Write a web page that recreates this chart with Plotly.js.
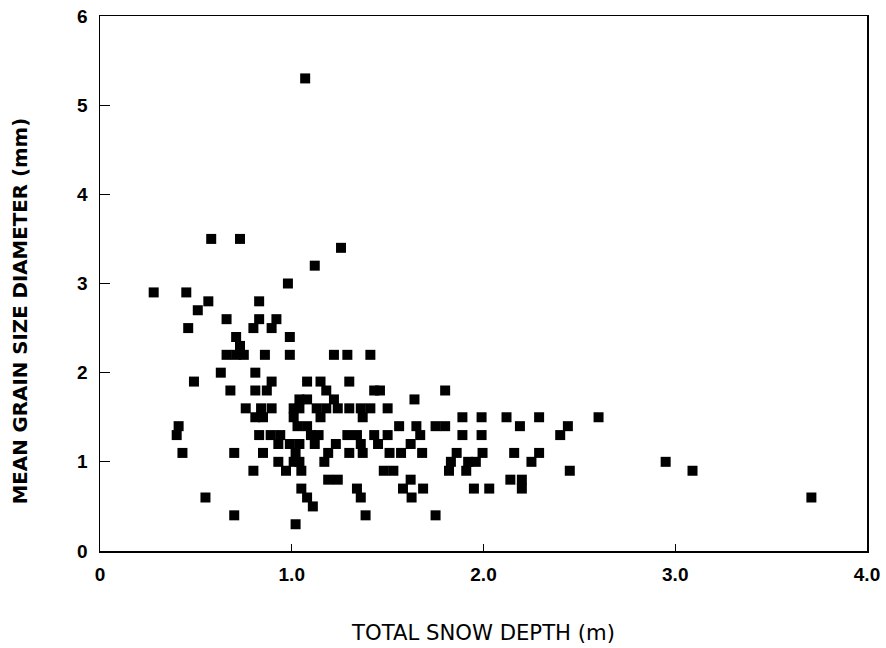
<!DOCTYPE html>
<html>
<head>
<meta charset="utf-8">
<script src="https://cdn.plot.ly/plotly-3.0.1.min.js"></script>
<style>html,body{margin:0;padding:0;background:#fff;}#chart{width:886px;height:648px;}</style>
</head>
<body>
<div id="chart"></div>
<script>
const snowDepth = [
  0.28, 0.45, 0.58, 0.73, 0.98, 0.565, 0.83, 0.51, 0.66, 0.83,
  0.92, 0.46, 0.80, 0.895, 0.71, 0.73, 0.99, 0.66, 0.71, 0.75,
  0.86, 0.99, 1.22, 1.29, 1.41, 1.257, 1.12, 1.07, 0.63, 0.81,
  0.49, 0.895, 1.08, 1.15, 1.30, 0.68, 0.81, 0.87, 1.18, 1.43,
  1.46, 1.80, 1.04, 1.08, 1.22, 1.64, 0.76, 0.84, 0.895, 1.01,
  1.04, 1.13, 1.18, 1.24, 1.30, 1.36, 1.41, 1.50, 0.81, 0.85,
  1.01, 1.15, 1.37, 1.89, 1.99, 2.12, 2.29, 2.60, 0.41, 1.03,
  1.08, 1.56, 1.65, 1.75, 1.80, 2.19, 2.44, 0.40, 0.83, 0.89,
  0.94, 1.10, 1.14, 1.29, 1.34, 1.43, 1.50, 1.67, 1.89, 1.99,
  2.40, 0.93, 0.99, 1.04, 1.12, 1.23, 1.36, 1.45, 1.62, 0.43,
  0.70, 0.85, 1.02, 1.19, 1.30, 1.37, 1.51, 1.57, 1.68, 1.86,
  1.995, 2.16, 2.29, 0.93, 1.01, 1.04, 1.17, 1.83, 1.92, 1.96,
  2.25, 2.95, 0.97, 1.05, 0.80, 1.48, 1.53, 1.82, 1.91, 2.45,
  3.09, 1.19, 1.24, 1.62, 2.14, 2.20, 1.05, 1.34, 1.58, 1.685,
  1.95, 2.03, 2.20, 0.55, 1.08, 1.36, 1.625, 3.71, 1.11, 0.70,
  1.385, 1.75, 1.02
];
const grainSize = [
  2.9, 2.9, 3.5, 3.5, 3.0, 2.8, 2.8, 2.7, 2.6, 2.6,
  2.6, 2.5, 2.5, 2.5, 2.4, 2.3, 2.4, 2.2, 2.2, 2.2,
  2.2, 2.2, 2.2, 2.2, 2.2, 3.4, 3.2, 5.3, 2.0, 2.0,
  1.9, 1.9, 1.9, 1.9, 1.9, 1.8, 1.8, 1.8, 1.8, 1.8,
  1.8, 1.8, 1.7, 1.7, 1.7, 1.7, 1.6, 1.6, 1.6, 1.6,
  1.6, 1.6, 1.6, 1.6, 1.6, 1.6, 1.6, 1.6, 1.5, 1.5,
  1.5, 1.5, 1.5, 1.5, 1.5, 1.5, 1.5, 1.5, 1.4, 1.4,
  1.4, 1.4, 1.4, 1.4, 1.4, 1.4, 1.4, 1.3, 1.3, 1.3,
  1.3, 1.3, 1.3, 1.3, 1.3, 1.3, 1.3, 1.3, 1.3, 1.3,
  1.3, 1.2, 1.2, 1.2, 1.2, 1.2, 1.2, 1.2, 1.2, 1.1,
  1.1, 1.1, 1.1, 1.1, 1.1, 1.1, 1.1, 1.1, 1.1, 1.1,
  1.1, 1.1, 1.1, 1.0, 1.0, 1.0, 1.0, 1.0, 1.0, 1.0,
  1.0, 1.0, 0.9, 0.9, 0.9, 0.9, 0.9, 0.9, 0.9, 0.9,
  0.9, 0.8, 0.8, 0.8, 0.8, 0.8, 0.7, 0.7, 0.7, 0.7,
  0.7, 0.7, 0.7, 0.6, 0.6, 0.6, 0.6, 0.6, 0.5, 0.4,
  0.4, 0.4, 0.3
];
const xTickVals = [0, 1, 2, 3, 4];
const xTickText = ["0", "1.0", "2.0", "3.0", "4.0"];
const yTickVals = [0, 1, 2, 3, 4, 5, 6];
const yTickText = ["0", "1", "2", "3", "4", "5", "6"];
const yTitle = 'MEAN GRAIN SIZE DIAMETER (mm)';

const trace = {
  x: snowDepth, y: grainSize, type: 'scatter', mode: 'markers',
  marker: {symbol: 'square', size: 10, color: '#000', line: {width: 0}},
  hoverinfo: 'x+y'
};
const layout = {
  width: 886, height: 648,
  margin: {l: 100, r: 19, t: 16, b: 97},
  paper_bgcolor: '#fff', plot_bgcolor: '#fff',
  showlegend: false,
  font: {family: 'Liberation Sans, Arial, sans-serif', color: '#000'},
  xaxis: {
    range: [0, 4], tickvals: xTickVals, ticktext: xTickText,
    ticks: 'inside', ticklen: 7, tickwidth: 1.2, tickcolor: '#000',
    showline: true, linecolor: '#000', linewidth: 1.5, mirror: true,
    showgrid: false, zeroline: false, automargin: false,
    tickfont: {size: 19, family: 'Liberation Sans, Arial, sans-serif', weight: 'bold'},
    ticklabelstandoff: 6,
    title: {text: 'TOTAL SNOW DEPTH (m)', standoff: 41,
      font: {size: 21.2, family: 'DejaVu Sans, sans-serif'}}
  },
  yaxis: {
    range: [0, 6], tickvals: yTickVals, ticktext: yTickText,
    ticks: 'inside', ticklen: 10, tickwidth: 1.2, tickcolor: '#000',
    showline: true, linecolor: '#000', linewidth: 1.5, mirror: true,
    showgrid: false, zeroline: false, automargin: false,
    tickfont: {size: 19, family: 'Liberation Sans, Arial, sans-serif', weight: 'bold'},
    ticklabelstandoff: 7,
    title: {text: yTitle + '\u00A0'.repeat(8) + '\u200B', standoff: 44,
      font: {size: 19.8, family: 'DejaVu Sans, sans-serif', weight: 'bold'}}
  }
};
Plotly.newPlot('chart', [trace], layout, {displayModeBar: false, staticPlot: true});
</script>
</body>
</html>
